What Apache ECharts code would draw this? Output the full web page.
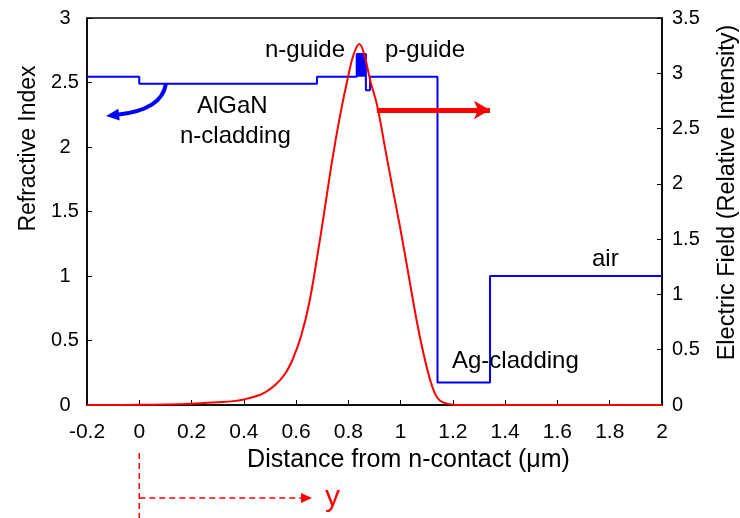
<!DOCTYPE html>
<html><head><meta charset="utf-8">
<script src="https://cdn.jsdelivr.net/npm/echarts@6/dist/echarts.min.js"></script>
<style>html,body{margin:0;padding:0;background:#fff}#c{width:740px;height:518px}</style>
</head><body><div id="c"></div>
<script>
// Refractive index step profile: layer boundaries (µm) and index of each layer
const layerEdges = [-0.2, 0, 0.68, 0.832, 0.867, 0.883, 1.141, 1.342, 2.0];
const layerIndex = [2.545, 2.49, 2.545, 2.72, 2.44, 2.545, 0.175, 1.0];
// Electric field (relative intensity), right axis
const fieldX = [-0.2, 0.0, 0.1, 0.2, 0.3, 0.36, 0.4, 0.44, 0.48, 0.52, 0.56, 0.59, 0.62, 0.65, 0.68, 0.71, 0.74, 0.77, 0.80, 0.82, 0.842, 0.863, 0.883, 0.91, 0.94, 0.97, 1.00, 1.03, 1.06, 1.085, 1.11, 1.13, 1.15, 1.18, 1.22, 1.4, 1.6, 1.8, 2.0];
const fieldE = [0, 0.002, 0.005, 0.012, 0.025, 0.035, 0.05, 0.074, 0.113, 0.18, 0.29, 0.43, 0.63, 0.92, 1.33, 1.78, 2.24, 2.64, 2.98, 3.17, 3.265, 3.15, 2.94, 2.71, 2.33, 1.95, 1.58, 1.18, 0.78, 0.49, 0.25, 0.11, 0.04, 0.01, 0, 0, 0, 0, 0];
// Axis ranges / ticks
const xRange = [-0.2, 2.0, 0.2];
const nRange = [0, 3, 0.5];
const eRange = [0, 3.5, 0.5];
// Annotation arrows (data coordinates)
const redArrow = [[0.909, 2.668], [1.342, 2.668]];              // right axis
const blueArrow = [[0.102, 2.49], [0.087, 2.287], [-0.127, 2.24]]; // left axis: start, control, tip
const labels = [
  {text: 'n-guide', x: 265, y: 50},
  {text: 'p-guide', x: 385, y: 50},
  {text: 'AlGaN', x: 197, y: 106},
  {text: 'n-cladding', x: 180, y: 136},
  {text: 'Ag-cladding', x: 452, y: 361},
  {text: 'air', x: 592, y: 259}
];

const FONT = '"Liberation Sans", Arial, Helvetica, sans-serif';
const stepPts = [];
for (let i = 0; i < layerIndex.length; i++) {
  stepPts.push([layerEdges[i], layerIndex[i]]);
  stepPts.push([layerEdges[i + 1], layerIndex[i]]);
}
const fieldPts = fieldX.map((x, i) => [x, fieldE[i]]);
const fmt = v => String(+(+v).toFixed(1));

const chart = echarts.init(document.getElementById('c'), null, {renderer: 'canvas'});
const axisCommon = {
  splitLine: {show: false},
  axisLine: {show: true, onZero: false, lineStyle: {color: '#000', width: 1.5}},
  axisTick: {show: true, inside: true, length: 5, lineStyle: {color: '#000', width: 1}}
};
chart.setOption({
  animation: false,
  backgroundColor: '#fff',
  grid: {left: 87, right: 78, top: 18, bottom: 113, outerBoundsMode: 'none', containLabel: false,
         show: true, borderColor: '#000', borderWidth: 1.5, backgroundColor: 'transparent'},
  xAxis: Object.assign({}, axisCommon, {
    type: 'value', min: xRange[0], max: xRange[1], interval: xRange[2],
    name: 'Distance from n-contact (\u03bcm)', nameLocation: 'middle', nameGap: 43,
    nameTextStyle: {fontFamily: FONT, fontSize: 25, color: '#000', padding: [0, 0, 0, 68]},
    axisLabel: {fontFamily: FONT, fontSize: 21, color: '#000', margin: 17, formatter: fmt}
  }),
  yAxis: [
    Object.assign({}, axisCommon, {
      type: 'value', min: nRange[0], max: nRange[1], interval: nRange[2], position: 'left',
      name: 'Refractive Index', nameLocation: 'middle', nameGap: 46,
      nameTextStyle: {fontFamily: FONT, fontSize: 23, color: '#000', padding: [0, 0, 0, 126]},
      axisLabel: {fontFamily: FONT, fontSize: 20, color: '#000', margin: 22, align: 'center', formatter: fmt}
    }),
    Object.assign({}, axisCommon, {
      type: 'value', min: eRange[0], max: eRange[1], interval: eRange[2], position: 'right',
      name: 'Electric Field (Relative Intensity)', nameLocation: 'middle', nameGap: 54,
      nameTextStyle: {fontFamily: FONT, fontSize: 23.5, color: '#000', padding: [0, 0, 0, 38]},
      axisLabel: {fontFamily: FONT, fontSize: 20, color: '#000', margin: 10, align: 'left', formatter: fmt}
    })
  ],
  series: [
    {
      name: 'Refractive Index', type: 'line', yAxisIndex: 0, data: stepPts,
      showSymbol: false, symbol: 'none', z: 3,
      lineStyle: {color: '#0000ff', width: 2},
      markArea: {
        silent: true,
        itemStyle: {color: '#0000ff', opacity: 1},
        data: [[{xAxis: layerEdges[3], yAxis: layerIndex[2]}, {xAxis: layerEdges[4], yAxis: layerIndex[3]}]]
      }
    },
    {
      name: 'Electric Field', type: 'line', yAxisIndex: 1, data: fieldPts,
      showSymbol: false, symbol: 'none', smooth: 0.4, z: 4,
      lineStyle: {color: '#ff0000', width: 2},
      markLine: {
        silent: true, symbol: ['none', 'arrow'], symbolSize: [14, 16],
        label: {show: false},
        lineStyle: {color: '#ff0000', width: 5, type: 'solid'},
        data: [[{coord: redArrow[0]}, {coord: redArrow[1]}]]
      }
    }
  ]
});

const x0 = chart.convertToPixel({xAxisIndex: 0}, 0);
const bp = blueArrow.map(p => chart.convertToPixel({xAxisIndex: 0, yAxisIndex: 0}, p));
const dx = bp[2][0] - bp[1][0], dy = bp[2][1] - bp[1][1];
const len = Math.hypot(dx, dy), ux = dx / len, uy = dy / len;
const headL = 13, headW = 6;
const base = [bp[2][0] - ux * headL, bp[2][1] - uy * headL];
const graphics = labels.map(l => ({
  type: 'text', x: l.x, y: l.y, z: 10,
  style: {text: l.text, fontFamily: FONT, fontSize: 24, fill: '#000', textAlign: 'left', textVerticalAlign: 'middle'}
}));
graphics.push(
  {type: 'bezierCurve', z: 10, shape: {x1: bp[0][0], y1: bp[0][1], cpx1: bp[1][0], cpy1: bp[1][1], x2: base[0] + ux * 2, y2: base[1] + uy * 2},
   style: {stroke: '#0000ff', lineWidth: 4, fill: null}},
  {type: 'polygon', z: 10, shape: {points: [bp[2], [base[0] - uy * headW, base[1] + ux * headW], [base[0] + uy * headW, base[1] - ux * headW]]},
   style: {fill: '#0000ff'}},
  {type: 'line', z: 10, shape: {x1: x0, y1: 453, x2: x0, y2: 518}, style: {stroke: '#ff0000', lineWidth: 1.5, lineDash: [6, 4]}},
  {type: 'line', z: 10, shape: {x1: x0, y1: 498, x2: 303, y2: 498}, style: {stroke: '#ff0000', lineWidth: 1.5, lineDash: [6, 4]}},
  {type: 'polygon', z: 10, shape: {points: [[301, 493], [312, 498], [301, 503]]}, style: {fill: '#ff0000'}},
  {type: 'text', z: 10, x: 325, y: 498, style: {text: 'y', fontFamily: FONT, fontSize: 30, fill: '#ff0000', textAlign: 'left', textVerticalAlign: 'middle'}}
);
chart.setOption({graphic: graphics});
</script></body></html>
